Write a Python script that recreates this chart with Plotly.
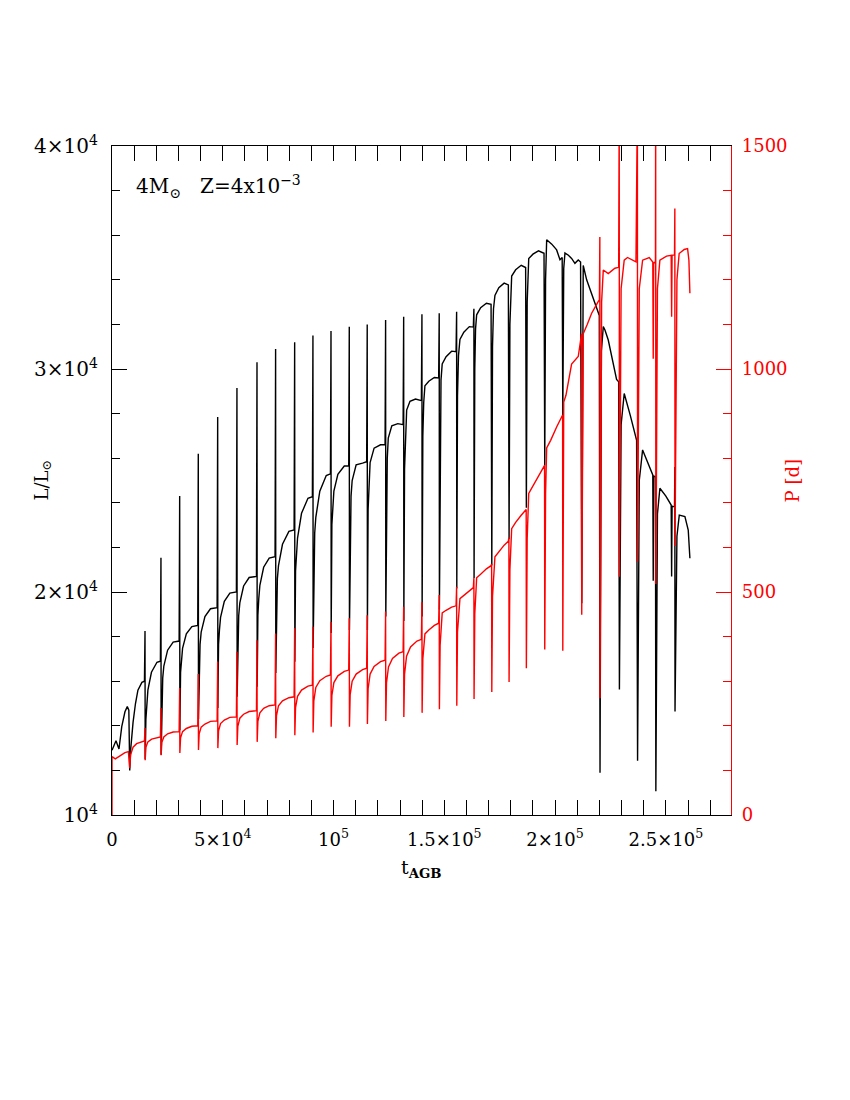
import plotly.graph_objects as go

# ---- luminosity track, L/Lsun (black, left axis) ----
t_lum = [
    0, 1800, 3150, 4400, 5850, 6900, 7600,
    8000,
    8400, 9500, 10600, 11700, 13500, 14650,
    14900, 14980, 15300, 15700, 16200, 17800, 20300, 21850,
    22100, 22180, 22500, 22900, 23400, 25100, 27600, 30300,
    30550, 30630, 30950, 31350, 31850, 33550, 36050, 38700,
    38950, 39030, 39350, 39750, 40250, 41950, 44450, 47450,
    47700, 47780, 48100, 48500, 49000, 50700, 53200, 56150,
    56400, 56480, 56800, 57200, 57700, 59400, 61900, 65200,
    65450, 65530, 65850, 66250, 66750, 68450, 70950, 73600,
    73850, 73930, 74250, 74650, 75150, 76950, 79850, 82200,
    82450, 82530, 82850, 83250, 83750, 85550, 88450, 90450,
    90700, 90780, 91100, 91500, 92000, 93800, 96700, 98600,
    98850, 98930, 99250, 99650, 100150, 101950, 104850, 106850,
    107100, 107180, 107500, 107900, 108400, 110200, 113100, 114950,
    115200, 115280, 115600, 116000, 116500, 118300, 121200, 123250,
    123500, 123580, 123900, 124250, 124700, 126300, 129000, 131400,
    131650, 131730, 132050, 132450, 133000, 134500, 137000, 139650,
    139900, 139980, 140300, 140700, 141250, 143000, 145500, 147450,
    147700, 147780, 148100, 148500, 149050, 150800, 153300, 155300,
    155550, 155630, 155950, 156400, 157050, 158800, 161300, 163100,
    163350, 163430, 163750, 164100, 164600, 166400, 169000, 171100,
    171430, 171750, 172200, 172850, 174600, 177000, 178900,
    179230, 179600, 179950, 180400, 182200, 184700, 186700,
    187030, 187400, 187700, 188100, 190000, 192500, 195000,
    195330, 195700, 196200, 198500, 200700, 202200, 203200,
    203480, 203900, 204450, 206000, 207450, 208950, 210450, 211500,
    212030, 212700, 214250, 216500, 217200, 219450, 219950,
    220280, 220900, 221750, 222500, 224000, 226000, 227750, 228700,
    229030, 229800, 231200, 234000, 236800,
    237230, 238000, 239500, 242000, 244100, 244300, 244500, 245300,
    245480, 246200, 247300, 250000, 252400, 252600, 252800, 253900,
    254050, 254130, 255000, 256050, 258600, 260100, 260850,
]
lum = [
    12900, 13330, 12960, 13960, 14630, 14860, 14700,
    12000,
    12900, 14150, 15000, 15600, 15950, 16000,
    18250, 12500, 14300, 15000, 15600, 16400, 16850, 16900,
    21540, 12700, 15500, 16150, 16680, 17390, 17750, 17800,
    24300, 13800, 16390, 16950, 17470, 18120, 18450, 18500,
    26200, 14300, 17050, 17650, 18200, 18900, 19250, 19300,
    27850, 14800, 17660, 18300, 18860, 19580, 19950, 20000,
    29150, 15300, 18270, 18950, 19510, 20270, 20650, 20700,
    30300, 15750, 18960, 19700, 20300, 21110, 21520, 21580,
    30900, 16370, 19900, 20600, 21180, 22140, 22720, 22780,
    31200, 16870, 20940, 21750, 22420, 23530, 24200, 24270,
    31500, 17490, 21790, 22650, 23350, 24520, 25220, 25300,
    31700, 18160, 23030, 23900, 24530, 25280, 25650, 25650,
    31900, 18300, 23200, 24300, 25000, 25700, 25780, 25840,
    32000, 18300, 23700, 25000, 25800, 26450, 26600, 26600,
    32200, 18900, 24500, 26000, 26900, 27450, 27550, 27500,
    32340, 18700, 25500, 27200, 28160, 28550, 28650, 28580,
    32450, 18900, 27000, 28500, 29250, 29450, 29620, 29600,
    32500, 19220, 27800, 29500, 30230, 30550, 30800, 30780,
    32570, 20160, 28800, 30600, 31330, 31650, 31900, 31880,
    32700, 20630, 30000, 31800, 32430, 32750, 32950, 32900,
    21190, 31000, 32700, 33300, 33650, 33850, 33770,
    22370, 32000, 33600, 34170, 34450, 34650, 34550,
    23780, 33000, 34400, 34950, 35150, 35300, 35190,
    25670, 34000, 35800, 35600, 35340, 34900, 35000,
    27870, 34500, 35200, 35100, 34960, 34740, 34890, 34800,
    19500, 34640, 34000, 33360, 33100, 32500, 32400,
    11900, 30800, 31900, 31750, 31300, 30300, 29530, 29430,
    15630, 27500, 28900, 27900, 26800,
    12430, 25000, 26370, 25800, 25250, 20500, 25200, 25170,
    11070, 23500, 24650, 24300, 23900, 20700, 23850, 23820,
    25600, 14640, 22500, 23450, 23380, 22780, 21510,
]

# ---- pulsation period, days (red, right axis) ----
t_per = [
    0, 0, 1500, 3150, 5850, 7400,
    8000,
    8400, 9500, 11100, 13500, 14650,
    14900, 14980, 15300, 16200, 17900, 20300, 21850,
    22100, 22180, 22500, 23400, 25100, 27600, 30300,
    30550, 30630, 30950, 31850, 33550, 36050, 38700,
    38950, 39030, 39350, 40250, 41950, 44450, 47450,
    47700, 47780, 48100, 49000, 50700, 53200, 56150,
    56400, 56480, 56800, 57700, 59400, 61900, 65200,
    65450, 65530, 65850, 66750, 68450, 70950, 73600,
    73850, 73930, 74250, 75150, 76950, 79850, 82200,
    82450, 82530, 82850, 83750, 85550, 88450, 90450,
    90700, 90780, 91100, 92000, 93800, 96700, 98600,
    98850, 98930, 99250, 100150, 101950, 104850, 106850,
    107100, 107180, 107500, 108400, 110200, 113100, 114950,
    115200, 115280, 115600, 116500, 118300, 121200, 123250,
    123500, 123580, 123900, 124800, 126600, 129500, 131400,
    131650, 131730, 132050, 132950, 134750, 137650, 139650,
    139900, 139980, 140300, 141250, 143000, 145500, 147450,
    147700, 147780, 148100, 149050, 150800, 153300, 155300,
    155550, 155630, 155950, 157050, 158800, 161300, 163100,
    163350, 163430, 163750, 164600, 166400, 169000, 171100,
    171350, 171430, 171750, 172850, 174600, 177000, 178900,
    179150, 179230, 179600, 180400, 182200, 184700, 186700,
    186950, 187030, 187400, 188100, 190000, 192500, 195000,
    195250, 195330, 195700, 196200, 198000, 200700, 203200,
    203400, 203480, 203900, 204900, 207450, 210450, 211700,
    211950, 212030, 212700, 214500, 216500, 219450, 220000,
    220200, 220280, 221000, 221750, 224000, 227000, 228700,
    228950, 229030, 229800, 231200, 232700, 236500,
    237150, 237230, 238000, 239500, 242500, 244100, 244300, 244500, 245300,
    245400, 245480, 246200, 247300, 250300, 252400, 252600, 252800, 253900,
    254050, 254130, 255000, 256000, 258300, 259800, 260400, 260850,
]
per = [
    0, 131, 126, 131, 140, 142,
    105,
    135, 152, 160, 165, 166,
    195, 123, 152, 164, 170, 174, 175,
    240, 134, 163, 175, 182, 186, 187,
    285, 139, 173, 187, 194, 199, 200,
    316, 146, 182, 197, 204, 210, 211,
    344, 150, 189, 205, 213, 219, 220,
    366, 157, 199, 217, 226, 232, 234,
    392, 164, 210, 229, 239, 245, 247,
    407, 172, 223, 245, 256, 263, 265,
    419, 179, 241, 266, 280, 289, 291,
    422, 185, 256, 286, 301, 311, 314,
    433, 198, 268, 297, 312, 322, 325,
    441, 198, 270, 300, 316, 326, 329,
    448, 204, 283, 316, 333, 344, 347,
    456, 211, 296, 332, 351, 363, 366,
    467, 220, 316, 356, 377, 390, 394,
    477, 229, 350, 406, 415, 425, 430,
    493, 237, 380, 453, 459, 466, 469,
    512, 245, 410, 485, 492, 503, 510,
    532, 260, 450, 532, 540, 552, 559,
    563, 276, 490, 579, 590, 605, 614,
    622, 298, 550, 642, 656, 672, 685,
    685, 329, 620, 721, 738, 760, 780,
    784, 371, 720, 823, 840, 870, 897,
    897, 368, 926, 941, 1011, 1028, 1072,
    1079, 449, 1079, 1100, 1125, 1151, 1155,
    1296, 262, 1150, 1222, 1214, 1226, 1228,
    1600, 534, 1180, 1244, 1250, 1240,
    1600, 568, 1180, 1244, 1250, 1240, 1023, 1238, 1240,
    1600, 518, 1180, 1244, 1253, 1255, 1117, 1255, 1256,
    1360, 603, 1200, 1259, 1268, 1270, 1244, 1170,
]

# ---- ticks ----
t_ticks = [0, 50000, 100000, 150000, 200000, 250000]
t_labels = ["0", "5×10<sup>4</sup>", "10<sup>5</sup>", "1.5×10<sup>5</sup>",
            "2×10<sup>5</sup>", "2.5×10<sup>5</sup>"]
lum_ticks = [10000, 20000, 30000, 40000]
lum_labels = ["10<sup>4</sup>", "2×10<sup>4</sup>", "3×10<sup>4</sup>", "4×10<sup>4</sup>"]
per_ticks = [0, 500, 1000, 1500]
per_labels = ["0", "500", "1000", "1500"]

serif = "DejaVu Serif"

fig = go.Figure()
fig.add_trace(go.Scatter(x=t_lum, y=lum, mode="lines",
                         line=dict(color="black", width=1.4), yaxis="y"))
fig.add_trace(go.Scatter(x=t_per, y=per, mode="lines",
                         line=dict(color="red", width=1.4), yaxis="y2"))

# page body has an 8px margin, so the figure is 8px smaller than the window
fig.update_layout(
    width=842, height=1092,
    margin=dict(l=104, r=119, t=138, b=285),
    paper_bgcolor="white", plot_bgcolor="white",
    showlegend=False,
    font=dict(family=serif, size=18, color="black"),
    xaxis=dict(
        range=[0, 279400], tickmode="array", tickvals=t_ticks, ticktext=t_labels,
        ticks="inside", ticklen=15, tickwidth=1.3, tickcolor="black",
        showline=True, linecolor="black", linewidth=1.3, mirror="allticks",
        showgrid=False, zeroline=False, ticklabelstandoff=8,
        minor=dict(tick0=0, dtick=10000, ticks="inside", ticklen=8,
                   tickwidth=1.3, tickcolor="black", showgrid=False),
        tickfont=dict(family=serif, size=18, color="black"),
    ),
    yaxis=dict(
        range=[10000, 40000], tickmode="array", tickvals=lum_ticks, ticktext=lum_labels,
        ticks="inside", ticklen=15, tickwidth=1.3, tickcolor="black",
        showline=True, linecolor="black", linewidth=1.3, mirror=False,
        showgrid=False, zeroline=False, ticklabelstandoff=9,
        minor=dict(tick0=0, dtick=2000, ticks="inside", ticklen=8,
                   tickwidth=1.3, tickcolor="black", showgrid=False),
        tickfont=dict(family=serif, size=20, color="black"),
    ),
    yaxis2=dict(
        range=[0, 1500], overlaying="y", side="right", anchor="x",
        tickmode="array", tickvals=per_ticks, ticktext=per_labels,
        ticks="inside", ticklen=15, tickwidth=1.3, tickcolor="red",
        showline=True, linecolor="red", linewidth=1.3,
        showgrid=False, zeroline=False, ticklabelstandoff=6,
        minor=dict(tick0=0, dtick=100, ticks="inside", ticklen=8,
                   tickwidth=1.3, tickcolor="red", showgrid=False),
        tickfont=dict(family=serif, size=18, color="red"),
    ),
)

fig.add_annotation(text="4M<sub>⊙</sub>\u00a0\u00a0\u00a0Z=4x10<sup>−3</sup>",
                   xref="paper", yref="paper", x=0.035, y=0.94,
                   xanchor="left", yanchor="middle", showarrow=False,
                   font=dict(family=serif, size=20, color="black"))
fig.add_annotation(text="L/L<sub>⊙</sub>", xref="paper", yref="paper",
                   x=-0.113, y=0.5, textangle=-90, showarrow=False,
                   xanchor="center", yanchor="middle",
                   font=dict(family=serif, size=18, color="black"))
fig.add_annotation(text="P [d]", xref="paper", yref="paper",
                   x=1.1, y=0.5, textangle=-90, showarrow=False,
                   xanchor="center", yanchor="middle",
                   font=dict(family=serif, size=18, color="red"))
fig.add_annotation(text="t<sub><b>AGB</b></sub>", xref="paper", yref="paper",
                   x=0.5, y=-0.08, showarrow=False,
                   xanchor="center", yanchor="middle",
                   font=dict(family=serif, size=19, color="black"))

fig.write_html("out.html")
